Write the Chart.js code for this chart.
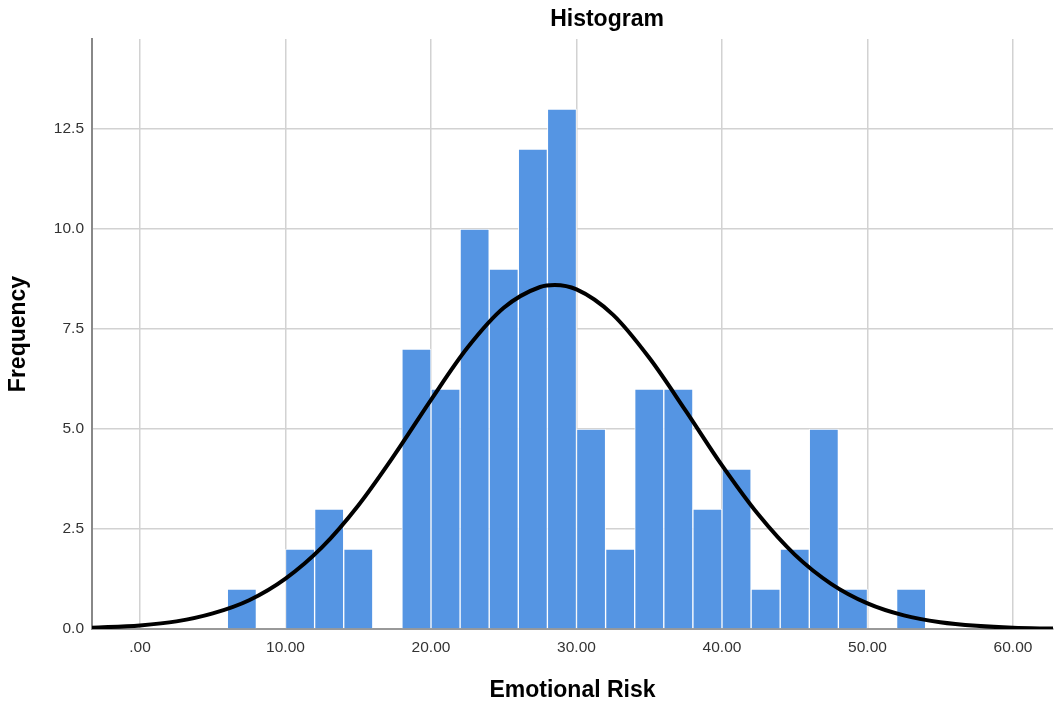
<!DOCTYPE html>
<html>
<head>
<meta charset="utf-8">
<script src="https://cdn.jsdelivr.net/npm/chart.js@4"></script>
<style>
  html, body { margin: 0; padding: 0; background: #fff; }
  #wrap { width: 1055px; height: 704px; }
</style>
</head>
<body>
<div id="wrap"><canvas id="chart" width="1055" height="704"></canvas></div>
<script>
// histogram bins (centre of each 2-unit bin) and their counts
const binCenters = [7, 11, 13, 15, 19, 21, 23, 25, 27, 29, 31, 33, 35, 37, 39, 41, 43, 45, 47, 49, 53];
const binCounts  = [1, 2, 3, 2, 7, 6, 10, 9, 12, 13, 5, 2, 6, 6, 3, 4, 1, 2, 5, 1, 1];

// normal curve
const curveX = [-3.3, 0, 2.5, 5, 7.5, 10, 12.5, 15, 17.5, 20, 22.5, 25, 27.5, 28.5, 30, 32.5, 35, 37.5, 40, 42.5, 45, 47.5, 50, 52.5, 55, 57.5, 60, 62.75];
const curveY = [0.03, 0.09, 0.19, 0.39, 0.72, 1.26, 2.04, 3.09, 4.36, 5.73, 7.03, 8.03, 8.55, 8.6, 8.49, 7.86, 6.78, 5.46, 4.09, 2.86, 1.86, 1.13, 0.64, 0.34, 0.17, 0.08, 0.03, 0.01];

const xTicks = [0, 10, 20, 30, 40, 50, 60];
const yTicks = [0, 2.5, 5, 7.5, 10, 12.5];

const FONT = "'Liberation Sans', Arial, sans-serif";

const titlePlugin = {
    id: 'spssTitle',
    afterDraw(chart) {
        const ctx = chart.ctx;
        ctx.save();
        ctx.font = "bold 23px " + FONT;
        ctx.fillStyle = '#000';
        ctx.textAlign = 'center';
        ctx.textBaseline = 'middle';
        ctx.fillText('Histogram', 607, 20);
        ctx.restore();
    }
};

const ctx = document.getElementById('chart').getContext('2d');
new Chart(ctx, {
    data: {
        datasets: [
            {
                type: 'line',
                data: curveX.map((x, i) => ({ x: x, y: curveY[i] })),
                borderColor: '#000',
                borderWidth: 4,
                pointRadius: 0,
                cubicInterpolationMode: 'monotone',
                fill: false,
                order: 0
            },
            {
                type: 'bar',
                data: binCenters.map((x, i) => ({ x: x, y: binCounts[i] })),
                backgroundColor: '#5595e3',
                borderColor: 'rgba(255,255,255,0.85)',
                borderWidth: 1,
                barPercentage: 1,
                categoryPercentage: 1,
                order: 1
            }
        ]
    },
    options: {
        responsive: false,
        animation: false,
        layout: { padding: { top: 39, right: 2, left: 0, bottom: 0 } },
        plugins: {
            legend: { display: false },
            tooltip: { enabled: false },
            title: { display: false }
        },
        scales: {
            x: {
                type: 'linear',
                offset: false,
                min: -3.3,
                max: 62.75,
                afterBuildTicks: (axis) => { axis.ticks = xTicks.map(v => ({ value: v })); },
                afterFit: (axis) => { axis.height = 75; },
                grid: { offset: false, color: '#d2d2d2', lineWidth: 1.5, drawTicks: false },
                border: { color: '#999', width: 2 },
                ticks: {
                    padding: 9,
                    color: '#333',
                    font: { family: FONT, size: 15.5 },
                    maxRotation: 0,
                    callback: (v) => v === 0 ? '.00' : v.toFixed(2)
                },
                title: {
                    display: true,
                    text: 'Emotional Risk',
                    color: '#000',
                    font: { family: FONT, size: 23, weight: 'bold' },
                    padding: { top: 0, bottom: 0 }
                }
            },
            y: {
                type: 'linear',
                min: 0,
                max: 14.75,
                afterBuildTicks: (axis) => { axis.ticks = yTicks.map(v => ({ value: v })); },
                afterFit: (axis) => { axis.width = 92; },
                grid: { color: '#d2d2d2', lineWidth: 1.5, drawTicks: false },
                border: { color: '#888', width: 2 },
                ticks: {
                    padding: 8,
                    color: '#333',
                    font: { family: FONT, size: 15.5 },
                    callback: (v) => v.toFixed(1)
                },
                title: {
                    display: true,
                    text: 'Frequency',
                    color: '#000',
                    font: { family: FONT, size: 23, weight: 'bold' },
                    padding: { top: 5, bottom: 0 }
                }
            }
        }
    },
    plugins: [titlePlugin]
});
</script>
</body>
</html>
